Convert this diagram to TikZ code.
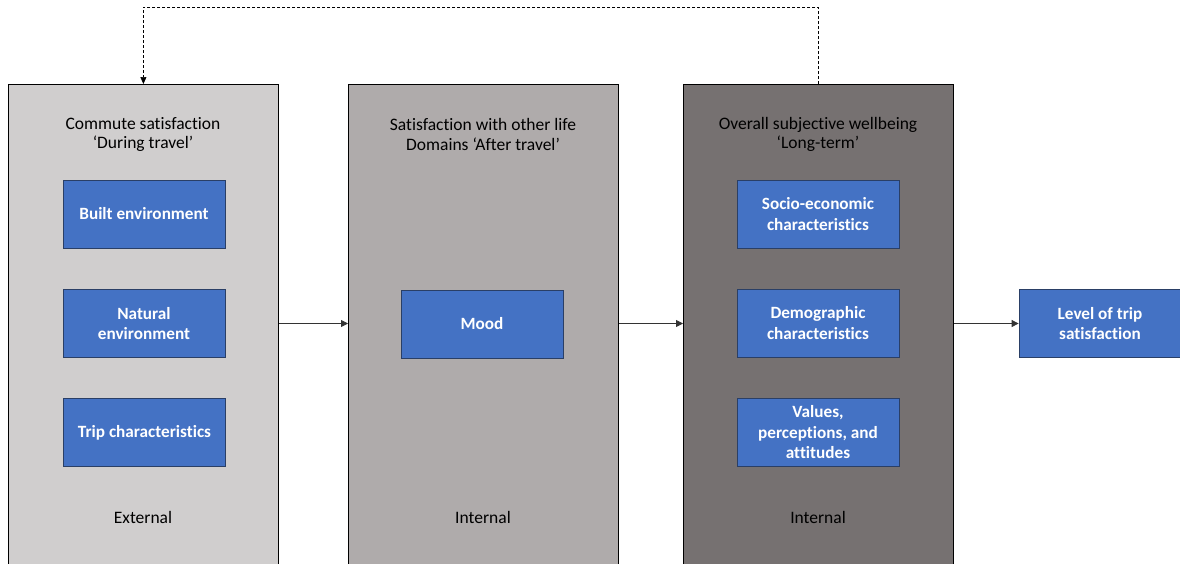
\documentclass[tikz,border=0pt]{standalone}
\usepackage{fontspec}
\setmainfont[Ligatures={TeX,NoCommon}]{Carlito}
\usetikzlibrary{arrows.meta,calc}
\definecolor{paneA}{HTML}{D0CECE}
\definecolor{paneB}{HTML}{AFABAB}
\definecolor{paneC}{HTML}{767171}
\definecolor{factor}{HTML}{4472C4}
\definecolor{factorline}{HTML}{2A3F66}
\begin{document}
\begin{tikzpicture}[x=1pt,y=1pt,
  panel/.style={draw=black,line width=0.8pt,rectangle,anchor=north west,
    minimum width=270pt,minimum height=485pt,inner sep=0pt},
  paneltitle/.style={align=center,font=\fontsize{17.5}{19.5}\selectfont,text=black},
  paneltag/.style={font=\fontsize{17.5}{19.5}\selectfont,text=black},
  factorbox/.style={draw=factorline,line width=0.8pt,fill=factor,rectangle,
    minimum width=162pt,minimum height=68pt,inner sep=2pt,align=center,
    text=white,font=\bfseries\fontsize{17.2}{20.5}\selectfont},
  flow/.style={draw=black!80,line width=0.8pt,-{Triangle[length=7pt,width=7pt]}},
  loop/.style={draw=black,line width=0.7pt,dashed,dash pattern=on 3pt off 2pt,
    -{Triangle[length=7pt,width=6pt]}}]
\useasboundingbox (0,0) rectangle (1180,-563);
\fill[white] (0,0) rectangle (1180,-563);

% three stage panels
\node[panel,fill=paneA] (p1) at (8,-84) {};
\node[panel,fill=paneB] (p2) at (348,-84) {};
\node[panel,fill=paneC] (p3) at (683,-84) {};

% panel headings and footers
\node[paneltitle] (t1) at (143,-134.5) {Commute satisfaction\\‘During travel’};
\node[paneltitle] (t2) at (483,-134.5) {Satisfaction with other life\\Domains ‘After travel’};
\node[paneltitle] (t3) at (818,-134.5) {Overall subjective wellbeing\\‘Long-term’};
\node[paneltag] (f1) at (143,-517) {External};
\node[paneltag] (f2) at (483,-517) {Internal};
\node[paneltag] (f3) at (818,-517) {Internal};

% factor boxes
\node[factorbox] (built) at (144,-214) {Built environment};
\node[factorbox] (nat) at (144,-323.5) {Natural\\environment};
\node[factorbox] (trip) at (144.5,-432.5) {Trip characteristics};
\node[factorbox] (mood) at (482,-324) {Mood};
\node[factorbox] (socio) at (818,-214) {Socio-economic\\characteristics};
\node[factorbox] (demo) at (818,-323) {Demographic\\characteristics};
\node[factorbox] (vals) at (818,-432.5) {Values,\\perceptions, and\\attitudes};
\node[factorbox] (level) at (1100,-323.5) {Level of trip\\satisfaction};

% forward flow between stages
\draw[flow] (p1.east |- nat) -- (p2.west |- nat);
\draw[flow] (p2.east |- nat) -- (p3.west |- nat);
\draw[flow] (p3.east |- nat) -- (level.west);

% feedback from wellbeing to commute satisfaction
\draw[loop] (p3.north) -- ++(0,77) -| (p1.north);
\end{tikzpicture}
\end{document}
